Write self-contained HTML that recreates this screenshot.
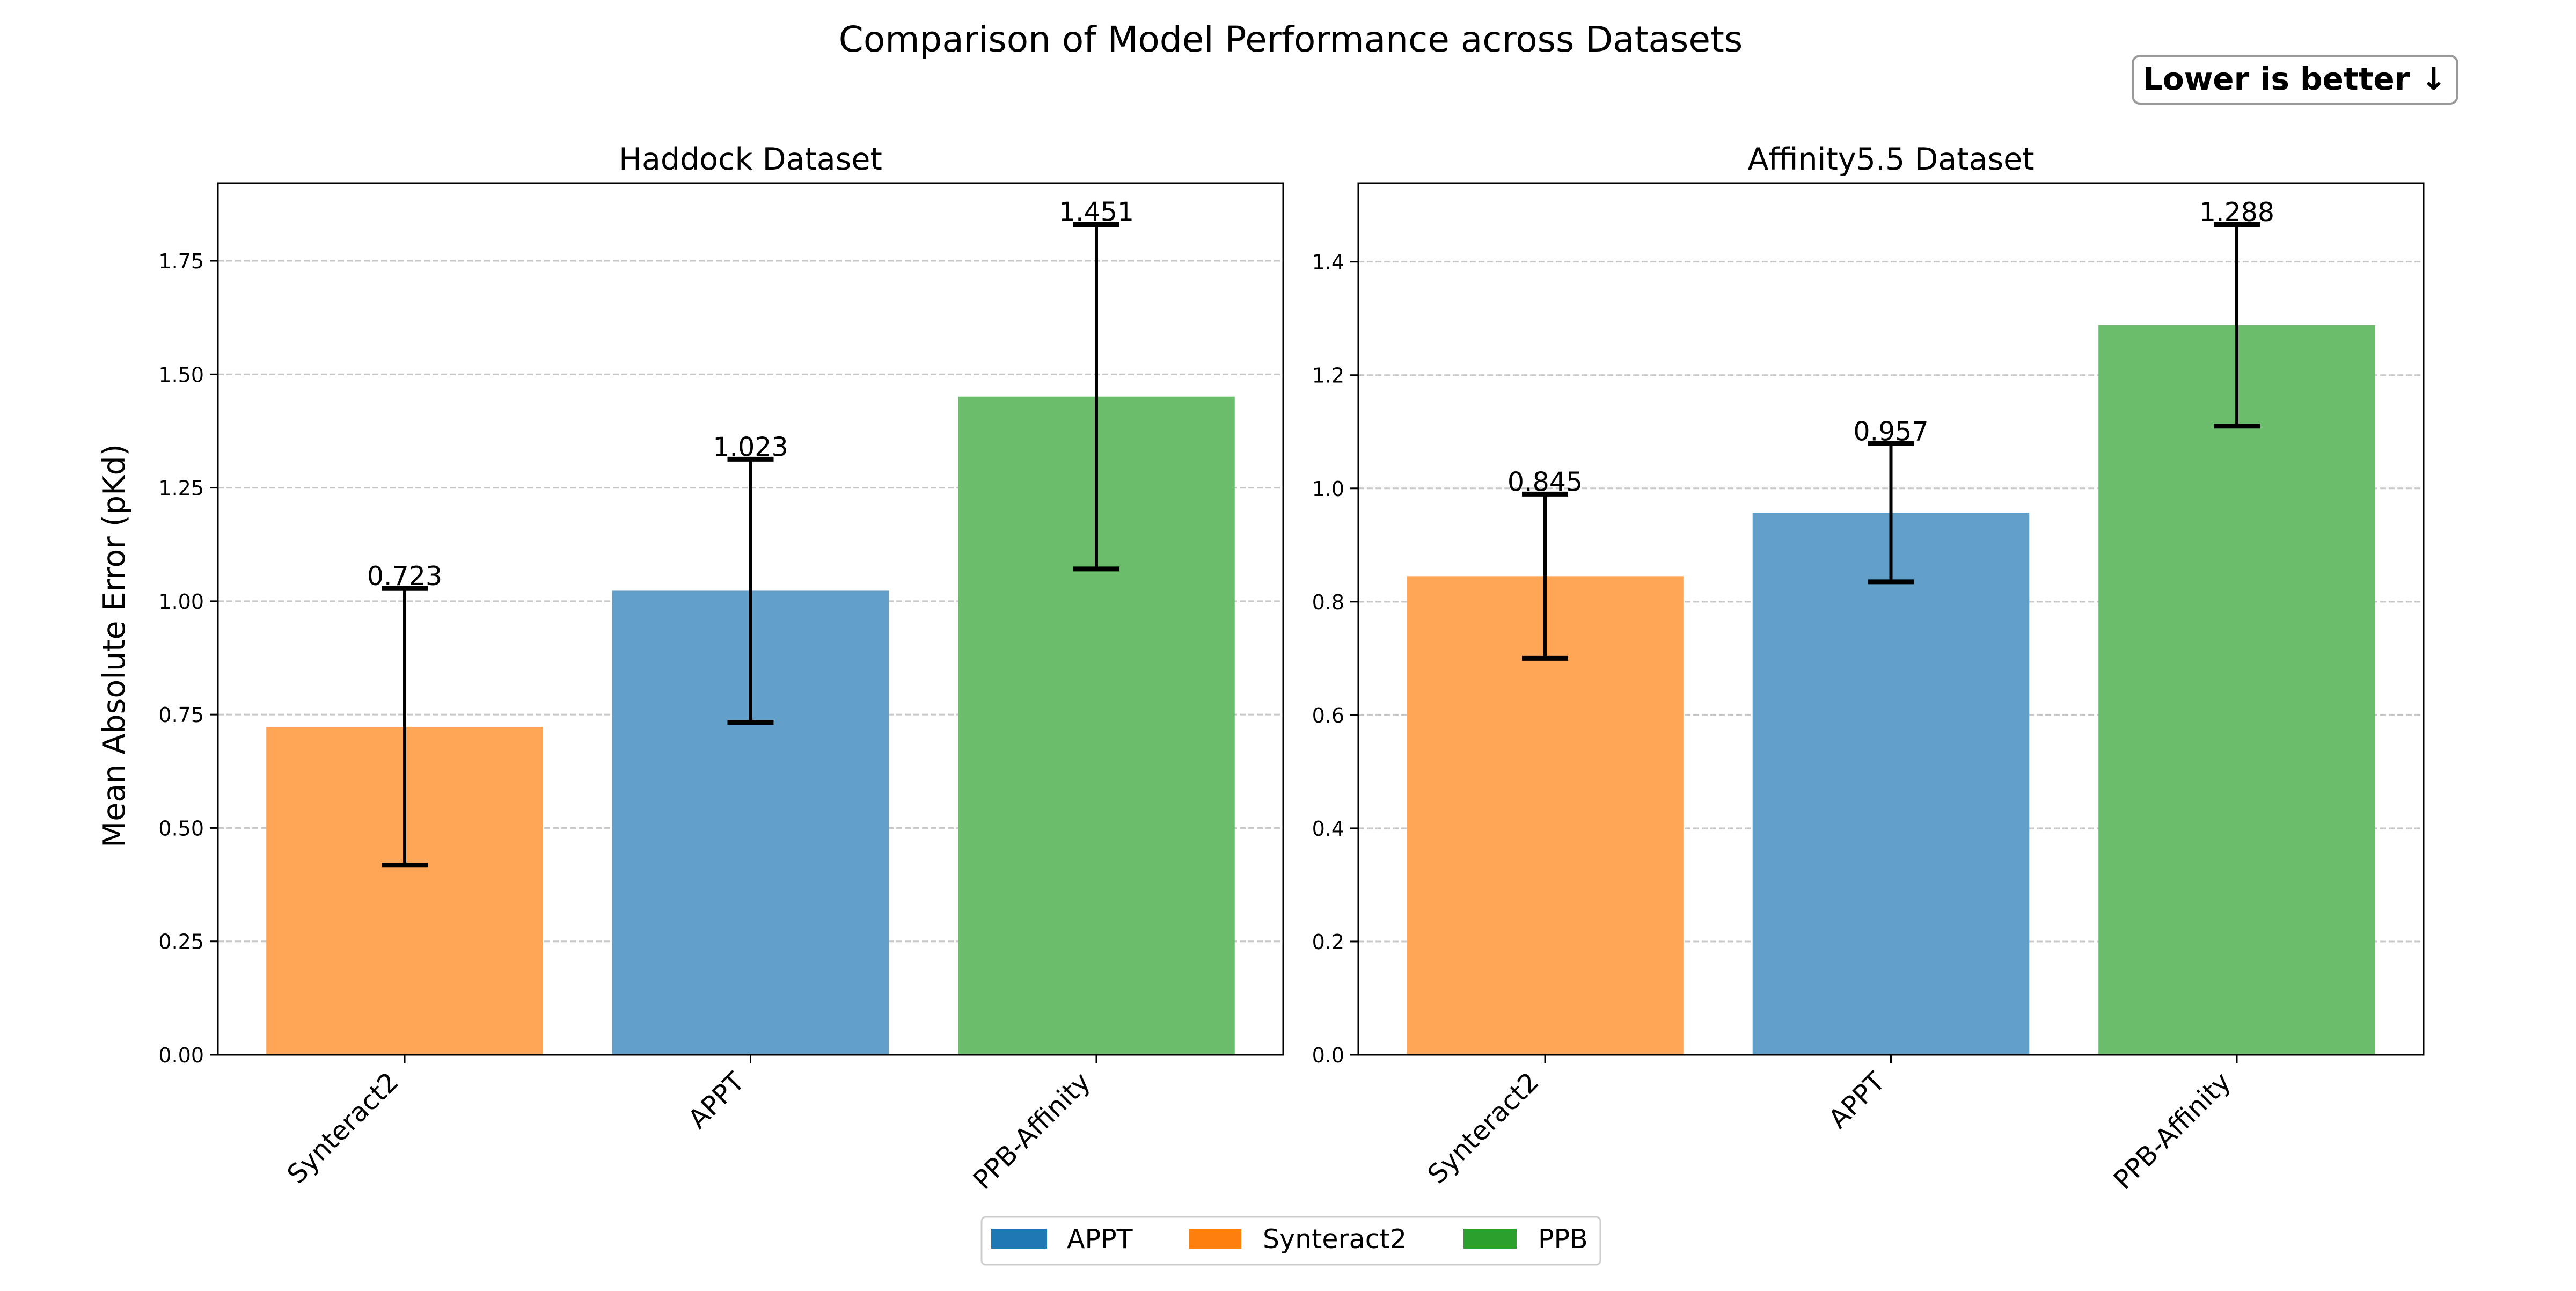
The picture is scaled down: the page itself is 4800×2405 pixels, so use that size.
<!DOCTYPE html>
<html><head><meta charset="utf-8"><style>
html,body{margin:0;padding:0;background:#fff}
svg text{font-family:"DejaVu Sans","Liberation Sans",sans-serif}
</style></head><body>
<svg id="chart" width="4800" height="2400" viewBox="0 0 4800 2400" xmlns="http://www.w3.org/2000/svg">
<rect width="4800" height="2400" fill="#fff"/>
<text x="2405" y="96" font-size="66" text-anchor="middle">Comparison of Model Performance across Datasets</text>
<g>
<rect x="3974" y="104" width="605" height="89" rx="14" fill="#fff" stroke="#999" stroke-width="4"/>
<text x="4276" y="167" font-size="58" font-weight="bold" text-anchor="middle">Lower is better ↓</text>
</g>
<text transform="translate(232,1203) rotate(-90)" font-size="57" text-anchor="middle">Mean Absolute Error (pKd)</text>
<g id="plots"></g>
<g>
<rect x="1829" y="2267" width="1153" height="89" rx="8" fill="#fff" stroke="#ccc" stroke-width="3"/>
<rect x="1847" y="2289" width="104" height="37" fill="#1f77b4"/>
<text x="1988" y="2325" font-size="49">APPT</text>
<rect x="2215" y="2289" width="98" height="37" fill="#ff7f0e"/>
<text x="2353" y="2325" font-size="49">Synteract2</text>
<rect x="2727" y="2289" width="99" height="37" fill="#2ca02c"/>
<text x="2866" y="2325" font-size="49">PPB</text>
</g>
</svg>
<script>
const categories = ["Synteract2", "APPT", "PPB-Affinity"];
const haddockValues = [0.723, 1.023, 1.451];
const haddockErrors = [0.305, 0.29, 0.38];
const affinityValues = [0.845, 0.957, 1.288];
const affinityErrors = [0.145, 0.122, 0.178];
const haddockTicks = [0, 0.25, 0.5, 0.75, 1.0, 1.25, 1.5, 1.75];
const haddockTickLabels = ["0.00","0.25","0.50","0.75","1.00","1.25","1.50","1.75"];
const affinityTicks = [0, 0.2, 0.4, 0.6, 0.8, 1.0, 1.2, 1.4];
const affinityTickLabels = ["0.0","0.2","0.4","0.6","0.8","1.0","1.2","1.4"];
const barColors = ["#ffa556", "#62a0ca", "#6bbd6b"];

const NS = "http://www.w3.org/2000/svg";
const root = document.getElementById("plots");
function mk(tag, attrs, parent){
  const e = document.createElementNS(NS, tag);
  for (const k in attrs) e.setAttribute(k, attrs[k]);
  parent.appendChild(e);
  return e;
}
function panel(key, title, x0, values, errors, ticks, tickLabels, ymax){
  const top = 341, bottom = 1965, w = 1985;
  const g = mk("g", {}, root);
  
  
  const xs = i => x0 + w * (i + 0.54) / 3.08;
  const ys = v => bottom - (bottom - top) * v / ymax;
  const bw = w * 0.8 / 3.08;
  ticks.forEach((t, i) => {
    const y = ys(t);
    const gl = mk("line", {x1:x0, x2:x0+w, y1:y, y2:y, stroke:"#c8c8c8", "stroke-width":3, "stroke-dasharray":"11,5"}, g);
    
    
    mk("line", {x1:x0-15, x2:x0, y1:y, y2:y, stroke:"#000", "stroke-width":3}, g);
    const tl = mk("text", {x:x0-26, y:y+14, "font-size":38, "text-anchor":"end"}, g);
    tl.textContent = tickLabels[i];
    
    
  });
  values.forEach((v, i) => {
    const cx = xs(i);
    const b = mk("rect", {x:cx-bw/2, y:ys(v), width:bw, height:bottom-ys(v), fill:barColors[i]}, g);
    
    
    const hi = ys(v + errors[i]), lo = ys(v - errors[i]);
    const eb = mk("g", {stroke:"#000"}, g);
    
    
    mk("line", {x1:cx, x2:cx, y1:hi, y2:lo, "stroke-width":6}, eb);
    mk("line", {x1:cx-43, x2:cx+43, y1:hi, y2:hi, "stroke-width":9}, eb);
    mk("line", {x1:cx-43, x2:cx+43, y1:lo, y2:lo, "stroke-width":9}, eb);
    const vl = mk("text", {x:cx, y:hi-6, "font-size":49, "text-anchor":"middle"}, g);
    vl.textContent = v.toFixed(3);
    
    
    mk("line", {x1:cx, x2:cx, y1:bottom, y2:bottom+15, stroke:"#000", "stroke-width":3}, g);
    const xl = mk("text", {transform:"translate(" + (cx-34) + "," + (bottom+28) + ") rotate(-45)", "font-size":49, "text-anchor":"end", "dominant-baseline":"hanging"}, g);
    xl.textContent = categories[i];
    
    
  });
  const fr = mk("rect", {x:x0, y:top, width:w, height:bottom-top, fill:"none", stroke:"#000", "stroke-width":3}, g);
  
  
  const st = mk("text", {x:x0+w/2, y:316, "font-size":57, "text-anchor":"middle"}, g);
  st.textContent = title;
  
  
}
panel("haddock", "Haddock Dataset", 406, haddockValues, haddockErrors, haddockTicks, haddockTickLabels, 1.9216);
panel("affinity", "Affinity5.5 Dataset", 2531, affinityValues, affinityErrors, affinityTicks, affinityTickLabels, 1.539);
</script>
</body></html>
